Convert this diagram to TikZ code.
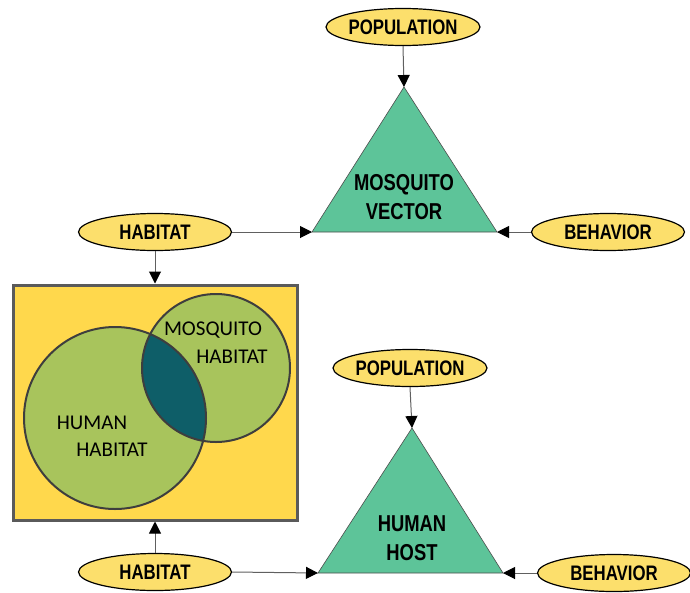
\documentclass[tikz,border=0pt]{standalone}
\usepackage{fontspec}
\usetikzlibrary{shapes.geometric,arrows.meta}
\newfontfamily\narrowfont[FakeStretch=0.8]{Liberation Sans Bold}
\newfontfamily\venfont{Carlito}
\definecolor{ellfill}{HTML}{FCDF6C}
\definecolor{trifill}{HTML}{5DC499}
\definecolor{boxfill}{HTML}{FFD84C}
\definecolor{boxline}{HTML}{5A5A5A}
\definecolor{circfill}{HTML}{A8C45C}
\definecolor{circline}{HTML}{3E3E3E}
\definecolor{interfill}{HTML}{0E5E68}
\definecolor{conn}{HTML}{606060}
\tikzset{
  oval/.style={ellipse, draw=black, line width=1.2pt, fill=ellfill, minimum width=153pt, minimum height=37pt, inner sep=0pt, font=\narrowfont\fontsize{21}{21}\selectfont},
  tritext/.style={align=center, font=\narrowfont\fontsize{23}{29}\selectfont, inner sep=0pt},
  trishape/.style={draw=black!70, line width=0.6pt, fill=trifill},
  venntext/.style={font=\venfont\fontsize{21}{21}\selectfont, inner sep=0pt},
  conline/.style={draw=conn, line width=1pt, -{Triangle[width=12pt,length=12pt,color=black]}},
}
\begin{document}
\begin{tikzpicture}[x=1pt,y=-1pt]
\useasboundingbox (0,0) rectangle (690,592);
% triangles
\coordinate (mvA) at (404,87);
\coordinate (mvL) at (312,232);
\coordinate (mvR) at (497,232);
\draw[trishape] (mvA) -- (mvL) -- (mvR) -- cycle;
\node[tritext] (mv) at (404,197) {MOSQUITO\\VECTOR};
\coordinate (hhA) at (412,428);
\coordinate (hhL) at (318,573);
\coordinate (hhR) at (503,573);
\draw[trishape] (hhA) -- (hhL) -- (hhR) -- cycle;
\node[tritext] (hh) at (412,538) {HUMAN\\HOST};
% ellipses
\node[oval] (pop1) at (403,27) {POPULATION};
\node[oval] (hab1) at (155,232) {HABITAT};
\node[oval] (beh1) at (608,232) {BEHAVIOR};
\node[oval] (pop2) at (410,368) {POPULATION};
\node[oval] (hab2) at (155,572) {HABITAT};
\node[oval] (beh2) at (614,573) {BEHAVIOR};
% box
\node[draw=boxline, line width=3pt, fill=boxfill, minimum width=284pt, minimum height=235pt, inner sep=0pt] (box) at (155,402.5) {};
% venn
\fill[circfill] (115,418) circle (91);
\fill[circfill] (216,368) circle (74);
\begin{scope}
\clip (115,418) circle (91);
\fill[interfill] (216,368) circle (74);
\end{scope}
\draw[circline, line width=2pt] (115,418) circle (91);
\draw[circline, line width=2pt] (216,368) circle (74);
\node[venntext] (vm1) at (213,330) {MOSQUITO};
\node[venntext] (vm2) at (232,357) {HABITAT};
\node[venntext] (vh1) at (92,423) {HUMAN};
\node[venntext] (vh2) at (112,450) {HABITAT};
% connectors
\draw[conline] (pop1.south) -- (mvA);
\draw[conline] (hab1.east) -- (mvL);
\draw[conline] (beh1.west) -- (mvR);
\draw[conline] (hab1.south) -- (box.north);
\draw[conline] (pop2.south) -- (hhA);
\draw[conline] (hab2.east) -- (hhL);
\draw[conline] (beh2.west) -- (hhR);
\draw[conline] (hab2.north) -- (box.south);
\end{tikzpicture}
\end{document}
